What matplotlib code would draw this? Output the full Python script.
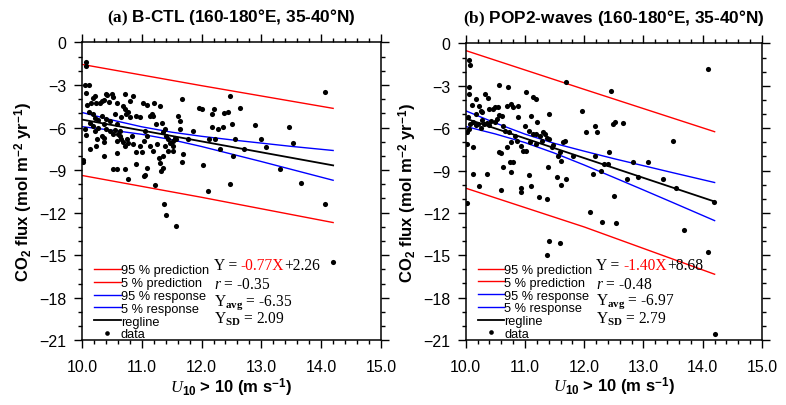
import numpy as np
import matplotlib
matplotlib.use('Agg')
import matplotlib.pyplot as plt
from matplotlib.ticker import MultipleLocator, FormatStrFormatter

plt.rcParams['font.family'] = ['Liberation Sans', 'DejaVu Sans']
plt.rcParams['mathtext.fontset'] = 'custom'
plt.rcParams['mathtext.rm'] = 'Liberation Serif'
plt.rcParams['mathtext.it'] = 'Liberation Serif:italic'
plt.rcParams['mathtext.bf'] = 'Liberation Serif:bold'
plt.rcParams['mathtext.sf'] = 'Liberation Sans:bold'

# ---- panel (a) B-CTL ----
a_x = [10.07, 10.06, 10.05, 10.11, 10.07, 10.02, 10.02, 10.05, 10.07, 10.13,
       10.08, 10.12, 10.18, 10.15, 10.22, 10.24, 10.30, 10.33, 10.37, 10.40,
       10.42, 10.46, 10.52, 10.50, 10.58, 10.18, 10.22, 10.27, 10.33, 10.37,
       10.41, 10.47, 10.55, 10.59, 10.64, 10.66, 10.72, 10.74, 10.77, 10.80,
       10.86, 10.91, 10.97, 10.72, 10.80, 10.68, 10.19, 10.22, 10.27, 10.33,
       10.36, 10.25, 10.37, 10.23, 10.13, 10.36, 10.41, 10.47, 10.52, 10.55,
       10.61, 10.64, 10.66, 10.69, 10.58, 10.72, 10.75, 10.77, 10.83, 10.86,
       10.91, 10.97, 11.00, 11.03, 11.05, 11.08, 10.58, 10.52, 10.58, 10.72,
       10.77, 10.91, 11.03, 11.05, 11.08, 11.02, 11.08, 11.14, 11.17, 11.19,
       11.20, 11.24, 11.30, 11.33, 11.35, 11.13, 11.18, 11.22, 11.26, 11.28,
       11.30, 11.32, 11.36, 11.35, 11.39, 11.40, 11.44, 11.47, 11.53, 11.39,
       11.61, 11.64, 11.64, 11.68, 11.67, 11.69, 11.56, 11.57, 11.53, 11.53,
       11.44, 11.78, 11.85, 11.96, 12.00, 12.02, 12.10, 12.13, 12.17, 12.18,
       12.21, 12.28, 12.22, 12.30, 12.36, 12.38, 12.45, 12.48, 12.48, 12.51,
       12.53, 12.56, 12.64, 12.71, 12.89, 12.99, 13.07, 13.31, 13.47, 13.53,
       13.67, 14.07, 11.37, 11.40, 11.58, 14.07, 14.19]
a_y = [-1.41, -1.65, -3.01, -3.01, -3.60, -8.30, -8.40, -6.07, -6.54, -5.69,
       -4.42, -4.94, -3.95, -4.24, -3.76, -4.28, -4.24, -4.12, -4.07, -3.65,
       -3.72, -4.19, -3.88, -3.65, -4.24, -5.06, -5.36, -5.46, -5.18, -5.76,
       -5.41, -5.53, -5.06, -5.76, -6.24, -5.29, -4.71, -5.06, -4.94, -5.29,
       -3.76, -5.18, -5.29, -3.65, -4.12, -4.47, -5.88, -6.24, -6.00, -6.59,
       -6.71, -6.78, -7.01, -7.29, -7.53, -8.00, -6.12, -6.24, -6.47, -6.16,
       -6.47, -6.59, -6.78, -7.01, -6.94, -7.29, -6.82, -7.06, -6.59, -7.18,
       -7.76, -7.29, -7.76, -6.94, -6.24, -6.59, -7.81, -8.94, -8.94, -8.94,
       -9.65, -8.59, -9.41, -9.36, -8.82, -4.24, -4.42, -5.18, -5.06, -5.18,
       -4.28, -5.76, -4.47, -5.65, -6.35, -7.29, -7.65, -10.07, -7.18, -8.12,
       -8.47, -9.06, -8.82, -8.00, -6.12, -6.59, -6.82, -7.06, -7.29, -7.29,
       -5.18, -5.53, -6.12, -4.00, -8.42, -7.88, -6.71, -6.82, -6.94, -7.65,
       -7.65, -6.82, -6.24, -4.59, -4.66, -8.64, -10.47, -6.82, -5.06, -5.95,
       -4.71, -6.12, -6.78, -7.48, -5.95, -5.01, -4.94, -10.00, -3.76, -5.76,
       -8.00, -6.82, -4.59, -7.53, -5.81, -6.82, -7.34, -8.89, -5.95, -7.06,
       -9.88, -3.53, -11.38, -12.16, -12.96, -11.38, -15.45]

a_reg_x = [10.0, 14.2]
a_reg_y = [-5.44, -8.67]
a_pred_x = [10.0, 12.0, 14.2]
a_pred_hi = [-1.55, -3.05, -4.65]
a_pred_lo = [-9.38, -10.92, -12.70]
a_resp_x = [10.0, 10.5, 11.0, 11.5, 12.0, 12.5, 13.0, 13.5, 14.2]
a_resp_hi = [-4.94, -5.47, -5.95, -6.33, -6.62, -6.87, -7.10, -7.33, -7.62]
a_resp_lo = [-5.94, -6.19, -6.48, -6.86, -7.34, -7.87, -8.40, -8.95, -9.72]

# ---- panel (b) POP2-waves ----
b_x = [10.06, 10.08, 10.06, 10.06, 10.10, 10.04, 10.02, 10.02, 10.12, 10.18,
       10.17, 10.23, 10.25, 10.28, 10.33, 10.38, 10.40, 10.46, 10.50, 10.54,
       10.57, 10.57, 10.62, 10.71, 10.70, 10.77, 10.80, 10.88, 10.88, 11.01,
       11.11, 11.14, 11.18, 11.20, 11.41, 11.69, 11.97, 12.03, 12.19, 12.22,
       12.45, 12.48, 12.52, 12.66, 13.49, 14.09,
       10.07, 10.12, 10.17, 10.21, 10.25, 10.06, 10.28, 10.31, 10.36, 10.39,
       10.43, 10.49, 10.53, 10.63, 10.66, 10.73, 10.77, 10.84, 10.87, 10.93,
       11.00, 11.06, 11.08, 10.97, 11.02, 10.69, 10.60, 10.63, 10.74, 10.79,
       10.77, 10.57, 10.12, 10.36, 10.23, 10.59, 10.94, 10.94, 11.06, 11.11,
       11.23, 11.37, 11.14, 11.19, 11.25, 11.29, 11.34, 11.37, 11.41, 11.45,
       11.47, 11.56, 11.59, 11.61, 11.64, 11.67, 11.70, 11.61, 11.54, 11.39,
       11.31, 11.19, 11.81, 12.19, 12.15, 12.29, 12.42, 12.33, 12.40, 12.51,
       12.72, 12.83, 12.91, 13.08, 13.33, 13.55,
       10.02, 12.10, 12.30, 12.54, 11.40, 11.59, 11.38, 13.69, 14.09, 14.20,
       14.19]
b_y = [-1.17, -1.53, -3.11, -3.58, -4.37, -5.24, -6.30, -7.13, -7.36, -3.94,
       -5.00, -4.41, -4.76, -4.88, -3.58, -3.89, -4.65, -4.65, -4.53, -4.53,
       -2.94, -5.07, -5.12, -3.11, -4.41, -4.29, -4.53, -4.41, -5.24, -3.42,
       -5.12, -3.82, -3.94, -5.54, -5.00, -2.75, -4.76, -6.30, -5.83, -6.30,
       -3.35, -5.71, -5.54, -5.64, -6.89, -1.81,
       -5.71, -5.59, -5.78, -5.71, -6.02, -6.06, -5.40, -5.71, -5.64, -5.78,
       -5.47, -5.59, -5.36, -5.83, -6.18, -6.30, -7.01, -6.54, -6.89, -7.25,
       -5.83, -6.18, -7.01, -7.60, -7.60, -7.36, -7.76, -8.78, -8.38, -8.38,
       -9.14, -7.72, -9.25, -9.25, -10.08, -10.39, -10.27, -10.51, -9.33, -10.08,
       -10.86, -11.03, -6.42, -6.42, -6.54, -6.89, -6.42, -6.73, -6.77, -7.36,
       -7.20, -8.00, -7.72, -8.31, -6.96, -6.89, -9.61, -10.04, -9.49, -8.78,
       -6.30, -7.13, -7.96, -8.00, -9.25, -9.02, -7.67, -8.55, -8.55, -10.84,
       -9.57, -8.38, -9.49, -8.38, -9.61, -10.27,
       -11.29, -11.95, -12.66, -12.71, -13.96, -14.13, -15.02, -13.25, -14.79, -20.58,
       -11.26]

b_reg_x = [10.0, 14.2]
b_reg_y = [-5.32, -11.20]
b_pred_x = [10.0, 12.0, 14.2]
b_pred_hi = [-0.50, -3.25, -6.25]
b_pred_lo = [-10.25, -13.00, -16.35]
b_resp_x = [10.0, 10.5, 11.0, 11.5, 12.0, 12.5, 13.0, 13.5, 14.2]
b_resp_hi = [-4.77, -5.63, -6.42, -7.08, -7.63, -8.16, -8.66, -9.16, -9.85]
b_resp_lo = [-5.88, -6.41, -7.02, -7.77, -8.61, -9.49, -10.38, -11.28, -12.55]


def draw_panel(ax, x, y, reg_x, reg_y, pred_x, pred_hi, pred_lo,
               resp_x, resp_hi, resp_lo, title, slope, icpt, r, yavg, ysd):
    h1, = ax.plot(pred_x, pred_hi, color='red', lw=1.0, label='95 % prediction')
    h2, = ax.plot(pred_x, pred_lo, color='red', lw=1.0, label='5 % prediction')
    h3, = ax.plot(resp_x, resp_hi, color='blue', lw=1.0, label='95 % response')
    h4, = ax.plot(resp_x, resp_lo, color='blue', lw=1.0, label='5 % response')
    h5, = ax.plot(reg_x, reg_y, color='black', lw=1.3, label='regline')
    h6, = ax.plot(x, y, 'o', color='black', ms=3.7, mew=0, label='data')

    ax.set_xlim(10, 15)
    ax.set_ylim(-21, 0)
    ax.xaxis.set_major_locator(MultipleLocator(1))
    ax.xaxis.set_minor_locator(MultipleLocator(0.2))
    ax.xaxis.set_major_formatter(FormatStrFormatter('%.1f'))
    ax.yaxis.set_major_locator(MultipleLocator(3))
    ax.yaxis.set_minor_locator(MultipleLocator(1))
    ax.tick_params(which='both', direction='out', top=True, right=True,
                   labeltop=False, labelright=False, width=1.0)
    ax.tick_params(which='major', length=5.5, labelsize=11.5)
    ax.tick_params(axis='x', which='major', pad=8.0)
    ax.tick_params(axis='y', which='major', pad=5.5)
    ax.tick_params(which='minor', length=2.6)
    for s in ax.spines.values():
        s.set_linewidth(1.1)

    ax.set_title(title, fontsize=12.4, fontweight='bold', pad=15)
    ax.set_xlabel(r'$\mathit{U}_\mathsf{10}$ > 10 (m s$^\mathsf{-1}$)',
                  fontsize=12, fontweight='bold', labelpad=1)
    ax.set_ylabel(r'CO$_\mathsf{2}$ flux (mol m$^\mathsf{-2}$ yr$^\mathsf{-1}$)',
                  fontsize=12, fontweight='bold', labelpad=3)

    ax.legend(handles=[h1, h2, h3, h4, h5, h6], loc='lower left',
              bbox_to_anchor=(0.04, 0.0), frameon=False, fontsize=9.2,
              handlelength=2.1, handletextpad=0.0, labelspacing=0.06,
              borderpad=0, borderaxespad=0, markerscale=0.9)

    tx = 0.44
    serif = dict(family='Liberation Serif', fontsize=11.2)
    t1 = ax.text(tx, 0.252, 'Y = ', transform=ax.transAxes, va='center', **serif)
    t2 = ax.annotate(slope, xy=(1, 0), xycoords=t1, va='bottom', color='red', **serif)
    ax.annotate(icpt, xy=(1, 0), xycoords=t2, va='bottom', **serif)
    ax.text(tx, 0.189, r'$\mathit{r}$ = ' + r, transform=ax.transAxes, va='center', **serif)
    ax.text(tx, 0.131, r'Y$_\mathbf{avg}$ = ' + yavg, transform=ax.transAxes, va='center', **serif)
    ax.text(tx, 0.073, r'Y$_\mathbf{SD}$ = ' + ysd, transform=ax.transAxes, va='center', **serif)


fig = plt.figure(figsize=(7.86, 4.06), dpi=100)
ax1 = fig.add_axes([0.1043, 0.1594, 0.3804, 0.7337])
ax2 = fig.add_axes([0.5925, 0.1604, 0.3770, 0.7300])

draw_panel(ax1, a_x, a_y, a_reg_x, a_reg_y, a_pred_x, a_pred_hi, a_pred_lo,
           a_resp_x, a_resp_hi, a_resp_lo,
           r'$\mathbf{(a)}$ B-CTL (160-180°E, 35-40°N)',
           '-0.77X', '+2.26', '-0.35', '-6.35', '2.09')
draw_panel(ax2, b_x, b_y, b_reg_x, b_reg_y, b_pred_x, b_pred_hi, b_pred_lo,
           b_resp_x, b_resp_hi, b_resp_lo,
           r'$\mathbf{(b)}$ POP2-waves (160-180°E, 35-40°N)',
           '-1.40X', '+8.68', '-0.48', '-6.97', '2.79')

fig.savefig('out.png', dpi=100)
